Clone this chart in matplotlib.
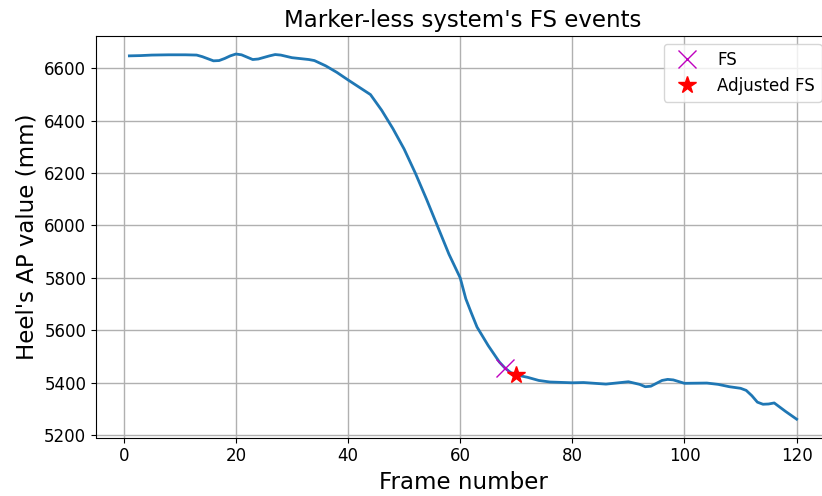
import matplotlib
matplotlib.use("Agg")
import matplotlib.pyplot as plt

# heel AP trajectory (frame, value in mm)
frames = [1, 3, 5, 8, 11, 13, 14, 16, 17, 18, 19, 20, 21, 23, 24, 26, 27, 28, 30,
          33, 34, 36, 38, 40, 42, 44, 46, 48, 50, 52, 54, 56, 58, 60, 61, 62, 63,
          65, 67, 68, 69, 70, 72, 74, 76, 80, 82, 86, 90, 92, 93, 94, 96, 97, 98,
          100, 104, 106, 108, 110, 111, 112, 113, 114, 115, 116, 118, 120]
heel_ap = [6648, 6649, 6651, 6652, 6652, 6651, 6645, 6629, 6630, 6638, 6648, 6655,
           6652, 6634, 6636, 6648, 6653, 6651, 6641, 6634, 6630, 6610, 6585, 6556,
           6528, 6500, 6440, 6370, 6292, 6200, 6100, 5995, 5890, 5800, 5720, 5665,
           5612, 5541, 5478, 5455, 5438, 5429, 5420, 5408, 5402, 5399, 5400, 5394,
           5403, 5393, 5384, 5386, 5408, 5412, 5410, 5397, 5398, 5393, 5384, 5378,
           5370, 5350, 5325, 5317, 5318, 5322, 5290, 5260]

fs_frame = [68]
fs_value = [5455]
adj_fs_frame = [70]
adj_fs_value = [5429]

fig = plt.figure(figsize=(8.22, 4.96), dpi=100)
ax = fig.add_axes([96 / 822, 1 - 437.5 / 496, (830 - 96) / 822, (437.5 - 35.7) / 496])

ax.plot(frames, heel_ap, color='#1f77b4', linewidth=2)
ax.plot(fs_frame, fs_value, 'x', color='m', markersize=13, label='FS')
ax.plot(adj_fs_frame, adj_fs_value, '*', color='r', markersize=13, label='Adjusted FS')

ax.set_xlim(-4.95, 125.95)
ax.set_ylim(5190, 6725)
ax.set_title("Marker-less system's FS events", fontsize=16.5)
ax.set_xlabel('Frame number', fontsize=16.5)
ax.set_ylabel("Heel's AP value (mm)", fontsize=16.5)
ax.tick_params(labelsize=12)
ax.grid(True, linewidth=1)
ax.legend(loc='upper right', fontsize=12)

plt.savefig('out.png', dpi=100)
